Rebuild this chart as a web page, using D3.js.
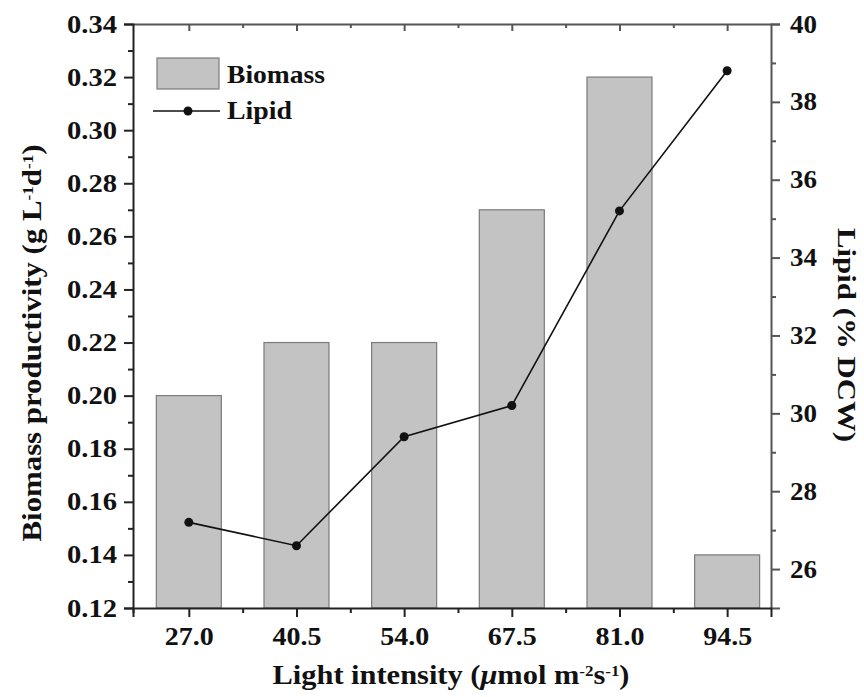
<!DOCTYPE html>
<html>
<head>
<meta charset="utf-8">
<script src="https://cdn.jsdelivr.net/npm/d3@7"></script>
<style>
  body { margin: 0; background: #fff; }
  text { font-family: "Liberation Serif", "Times New Roman", serif; font-weight: bold; fill: #111; }
</style>
</head>
<body>
<svg id="chart" width="864" height="697"></svg>
<script>
// Light intensity levels (µmol m^-2 s^-1)
const categories = [27.0, 40.5, 54.0, 67.5, 81.0, 94.5];
const categoryLabels = ["27.0", "40.5", "54.0", "67.5", "81.0", "94.5"];
// Biomass productivity (g L^-1 d^-1)
const biomass = [0.20, 0.22, 0.22, 0.27, 0.32, 0.14];
// Lipid content (% DCW)
const lipid = [27.2, 26.6, 29.4, 30.2, 35.2, 38.8];
const leftTicks = [0.12, 0.14, 0.16, 0.18, 0.20, 0.22, 0.24, 0.26, 0.28, 0.30, 0.32, 0.34];
const rightTicks = [26, 28, 30, 32, 34, 36, 38, 40];

const svg = d3.select("#chart");
const L = 133, R = 771, T = 24, B = 608;

const x = d3.scaleLinear().domain([20, 100]).range([L, R]);
const yL = d3.scaleLinear().domain([0.12, 0.34]).range([B, T]);
const yR = d3.scaleLinear().domain([25, 40]).range([B, T]);
const barW = 65;
const fontSize = 25;

// stretch a text element to a fixed width
function fit(sel, w) {
  sel.attr("textLength", w).attr("lengthAdjust", "spacingAndGlyphs");
}

// bars
svg.append("g").selectAll("rect").data(categories).join("rect")
  .attr("x", (d) => x(d) - barW / 2)
  .attr("y", (d, i) => yL(biomass[i]))
  .attr("width", barW)
  .attr("height", (d, i) => yL(0.12) - yL(biomass[i]))
  .attr("fill", "#c3c3c3")
  .attr("stroke", "#7a7a7a")
  .attr("stroke-width", 1.2);

// lipid line
const line = d3.line().x((d, i) => x(categories[i])).y((d) => yR(d));
svg.append("path").datum(lipid)
  .attr("d", line).attr("fill", "none").attr("stroke", "#111").attr("stroke-width", 1.6);
svg.append("g").selectAll("circle").data(lipid).join("circle")
  .attr("cx", (d, i) => x(categories[i])).attr("cy", (d) => yR(d))
  .attr("r", 4.5).attr("fill", "#111");

// top frame (inward ticks)
const bottomMinor = categories.slice(0, 5).map((d) => d + 6.75);
const gT = svg.append("g").attr("transform", `translate(0,${T})`)
  .call(d3.axisBottom(x).tickValues(categories).tickFormat("").tickSize(7).tickSizeOuter(0));
const gT2 = svg.append("g").attr("transform", `translate(0,${T})`)
  .call(d3.axisBottom(x).tickValues(bottomMinor).tickFormat("").tickSize(4));
gT2.select(".domain").remove();
[gT, gT2].forEach((g) => g.selectAll(".domain, .tick line").attr("stroke", "#555").attr("stroke-width", 2));

// left axis
const leftMinor = d3.range(0.13, 0.34, 0.02);
const gL = svg.append("g").attr("transform", `translate(${L},0)`)
  .call(d3.axisLeft(yL).tickValues(leftTicks).tickFormat(d3.format(".2f")).tickSize(9).tickPadding(7));
gL.selectAll("text").style("font-size", fontSize + "px").call(fit, 50);
const gL2 = svg.append("g").attr("transform", `translate(${L},0)`)
  .call(d3.axisLeft(yL).tickValues(leftMinor).tickFormat("").tickSize(5));
gL2.select(".domain").remove();
[gL, gL2].forEach((g) => g.selectAll(".domain, .tick line").attr("stroke", "#222").attr("stroke-width", 2));

// right axis
const rightMinor = d3.range(27, 40, 2);
const gR = svg.append("g").attr("transform", `translate(${R},0)`)
  .call(d3.axisRight(yR).tickValues(rightTicks).tickSize(9).tickPadding(10));
gR.selectAll("text").style("font-size", fontSize + "px").call(fit, 27);
const gR2 = svg.append("g").attr("transform", `translate(${R},0)`)
  .call(d3.axisRight(yR).tickValues(rightMinor).tickFormat("").tickSize(5));
gR2.select(".domain").remove();
[gR, gR2].forEach((g) => g.selectAll(".domain, .tick line").attr("stroke", "#555").attr("stroke-width", 2));

// bottom axis
const gB = svg.append("g").attr("transform", `translate(0,${B})`)
  .call(d3.axisBottom(x).tickValues(categories).tickFormat((d, i) => categoryLabels[i]).tickSize(9).tickPadding(10));
gB.selectAll("text").style("font-size", fontSize + "px").call(fit, 49);
const gB2 = svg.append("g").attr("transform", `translate(0,${B})`)
  .call(d3.axisBottom(x).tickValues([20, ...bottomMinor]).tickFormat("").tickSize(5));
gB2.select(".domain").remove();
[gB, gB2].forEach((g) => g.selectAll(".domain, .tick line").attr("stroke", "#222").attr("stroke-width", 2));

// axis titles
const sup = 'baseline-shift="super" font-size="15px"';
svg.append("text")
  .attr("transform", "translate(41,343) rotate(-90)")
  .attr("text-anchor", "middle")
  .style("font-size", "27px")
  .call(fit, 397)
  .html(`Biomass productivity (g L<tspan ${sup}>-1</tspan>d<tspan ${sup}>-1</tspan>)`);

svg.append("text")
  .attr("transform", "translate(838,335) rotate(90)")
  .attr("text-anchor", "middle")
  .style("font-size", "26px")
  .call(fit, 214)
  .text("Lipid (% DCW)");

svg.append("text")
  .attr("x", 451).attr("y", 684)
  .attr("text-anchor", "middle")
  .style("font-size", "27px")
  .call(fit, 357)
  .html(`Light intensity (<tspan font-style="italic">\u03bc</tspan>mol m<tspan ${sup}>-2</tspan>s<tspan ${sup}>-1</tspan>)`);

// legend
const lg = svg.append("g");
lg.append("rect").attr("x", 157).attr("y", 58).attr("width", 62).attr("height", 31)
  .attr("fill", "#c3c3c3").attr("stroke", "#7a7a7a").attr("stroke-width", 1.2);
lg.append("text").attr("x", 227).attr("y", 83).style("font-size", "25px").call(fit, 98).text("Biomass");
lg.append("line").attr("x1", 153).attr("x2", 220).attr("y1", 111).attr("y2", 111)
  .attr("stroke", "#111").attr("stroke-width", 1.6);
lg.append("circle").attr("cx", 188).attr("cy", 111).attr("r", 4.5).attr("fill", "#111");
lg.append("text").attr("x", 227).attr("y", 119).style("font-size", "25px").call(fit, 65).text("Lipid");
</script>
</body>
</html>
